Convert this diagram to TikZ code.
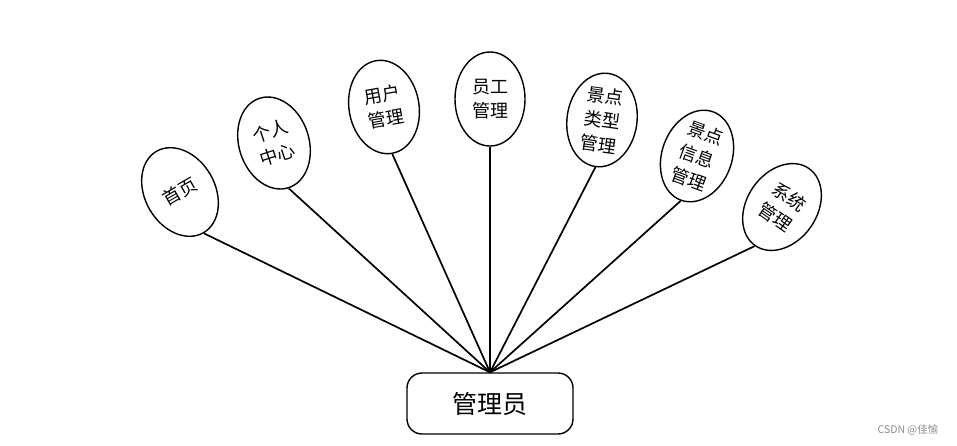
\documentclass[tikz,border=0pt]{standalone}
\usepackage{fontspec}
\setmainfont{Noto Sans CJK SC}
\usetikzlibrary{shapes.geometric}
\begin{document}
\begin{tikzpicture}[x=1pt,y=-1pt,
  bubble/.style={ellipse,draw,line width=1.4pt,minimum width=70pt,minimum height=94pt,inner sep=0pt,align=center,font=\fontsize{18pt}{24.5pt}\selectfont},
  adminbox/.style={draw,line width=1.4pt,rounded corners=15pt,minimum width=166pt,minimum height=61pt,font=\fontsize{25pt}{30pt}\selectfont},
  link/.style={line width=1.7pt}]
\useasboundingbox (0,0) rectangle (957,445);
\node[adminbox] (admin) at (490,403.5) {管理员};
\node[bubble,rotate=30] (e1) at (180,192) {首页};
\node[bubble,rotate=18] (e2) at (274,143) {个人\\中心};
\node[bubble,rotate=10] (e3) at (384,107) {用户\\管理};
\node[bubble] (e4) at (490,99) {员工\\管理};
\node[bubble,rotate=-8] (e5) at (602,120) {景点\\类型\\管理};
\node[bubble,rotate=-20] (e6) at (697,156) {景点\\信息\\管理};
\node[bubble,rotate=-35] (e7) at (782,207) {系统\\管理};
\foreach \e in {e1,e2,e3,e4,e5,e6,e7}
  \draw[link] (admin.north) -- (\e.south);
\node[text=black!45,font=\fontsize{10.5pt}{12pt}\selectfont] (wm) at (908,430) {CSDN @佳愉};
\end{tikzpicture}
\end{document}
